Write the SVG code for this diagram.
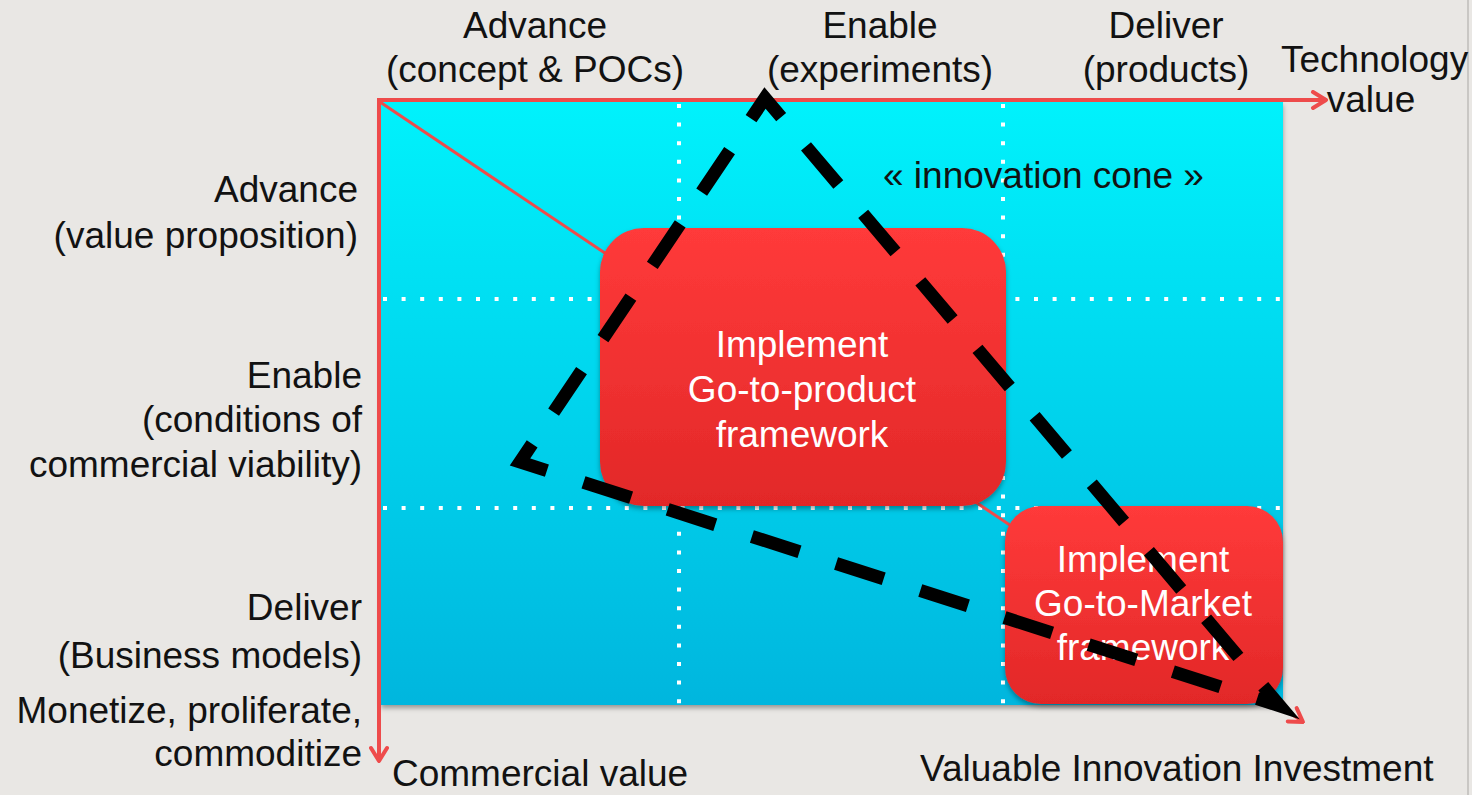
<svg xmlns="http://www.w3.org/2000/svg" width="1472" height="795" viewBox="0 0 1472 795">
<style>
.t{font-family:"Liberation Sans",Arial,sans-serif;font-size:37px;fill:#121212}
.m{text-anchor:middle}
.e{text-anchor:end}
.w{font-family:"Liberation Sans",Arial,sans-serif;font-size:37px;fill:#ffffff;text-anchor:middle}
.ax{stroke:#ee4b4b;fill:none}
.grid{stroke:#ffffff;stroke-width:4;stroke-dasharray:4 14.6;fill:none}
</style>
<defs>
<linearGradient id="cyan" x1="0" y1="0" x2="0" y2="1">
<stop offset="0" stop-color="#00f2fc"/>
<stop offset="1" stop-color="#00b6de"/>
</linearGradient>
<linearGradient id="red" x1="0" y1="0" x2="0" y2="1">
<stop offset="0" stop-color="#ff3a3a"/>
<stop offset="1" stop-color="#e22828"/>
</linearGradient>
<filter id="sh" x="-5%" y="-5%" width="110%" height="115%">
<feDropShadow dx="0" dy="3" stdDeviation="2.5" flood-color="#000" flood-opacity="0.35"/>
</filter>
<marker id="chev" viewBox="0 0 20 20" refX="18" refY="10" markerWidth="20" markerHeight="20" markerUnits="userSpaceOnUse" orient="auto">
<path d="M5,2 L18,10 L5,18" fill="none" stroke="#ee4b4b" stroke-width="4" stroke-linecap="round" stroke-linejoin="round"/>
</marker>
</defs>
<rect x="0" y="0" width="1472" height="795" fill="#e9e7e4"/>
<line x1="1468" y1="0" x2="1468" y2="795" stroke="#c9c7c4" stroke-width="2"/>

<g id="plane">
<rect x="381" y="102" width="902" height="603" fill="url(#cyan)" filter="url(#sh)"/>
<path class="grid" d="M679,104 V705 M1003,104 V705 M383,299 H1283 M383,508 H1283"/>
</g>

<g id="connectors">
<line class="ax" x1="380" y1="102" x2="1303" y2="722" stroke-width="3" marker-end="url(#chev)"/>
<line class="ax" x1="378" y1="100" x2="1326" y2="100" stroke-width="4" marker-end="url(#chev)"/>
<line class="ax" x1="379" y1="98" x2="379" y2="761" stroke-width="4" marker-end="url(#chev)"/>
</g>

<g id="box1">
<rect x="600" y="228" width="406" height="278" rx="44" fill="url(#red)" filter="url(#sh)"/>
<text class="w" x="802" y="357">Implement</text>
<text class="w" x="802" y="402">Go-to-product</text>
<text class="w" x="802" y="447">framework</text>
</g>

<g id="box2">
<rect x="1005" y="506" width="278" height="198" rx="36" fill="url(#red)" filter="url(#sh)"/>
<text class="w" x="1143" y="572">Implement</text>
<text class="w" x="1143" y="616">Go-to-Market</text>
<text class="w" x="1143" y="660">framework</text>
</g>

<g id="cone">
<path d="M642.5,280 L765,98 L1280,706 L520,462 Z" fill="none" stroke="#000" stroke-width="13" stroke-dasharray="50 38.43" stroke-dashoffset="70.89" stroke-linejoin="miter" stroke-miterlimit="10"/>
<text class="t" x="883" y="188">« innovation cone »</text>
</g>

<g id="top-labels">
<text class="t m" x="535" y="38">Advance</text>
<text class="t m" x="535" y="82">(concept &amp; POCs)</text>
<text class="t m" x="880" y="38">Enable</text>
<text class="t m" x="880" y="82">(experiments)</text>
<text class="t m" x="1166" y="38">Deliver</text>
<text class="t m" x="1166" y="82">(products)</text>
<text class="t" x="1281" y="72">Technology</text>
<text class="t m" x="1371" y="112">value</text>
</g>

<g id="left-labels">
<text class="t e" x="358" y="202">Advance</text>
<text class="t e" x="358" y="248">(value proposition)</text>
<text class="t e" x="362" y="388">Enable</text>
<text class="t e" x="362" y="432">(conditions of </text>
<text class="t e" x="362" y="477">commercial viability)</text>
<text class="t e" x="362" y="620">Deliver</text>
<text class="t e" x="362" y="668">(Business models)</text>
<text class="t e" x="362" y="723">Monetize, proliferate,</text>
<text class="t e" x="362" y="766">commoditize</text>
</g>

<g id="bottom-labels">
<text class="t" x="392" y="786">Commercial value</text>
<text class="t" x="920" y="781">Valuable Innovation Investment</text>
</g>
</svg>
